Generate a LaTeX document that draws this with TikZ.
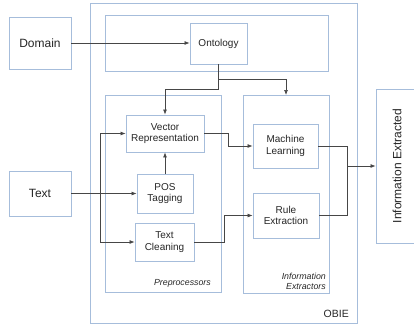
\documentclass[tikz,border=0pt]{standalone}
\usepackage{fontspec}
\setmainfont{Liberation Sans}
\usetikzlibrary{arrows.meta}

\definecolor{boxblue}{RGB}{166,189,219}
\definecolor{linegray}{RGB}{70,70,70}

\tikzset{
  ->/.style={draw=linegray,line width=0.7pt,-{Latex[length=5pt,width=4pt]}},
  link/.style={draw=linegray,line width=0.7pt},
  group/.style={draw=boxblue,line width=0.9pt},
  bigbox/.style={group,fill=white,font=\fontsize{12}{14}\selectfont},
  smallbox/.style={group,fill=white,align=center,font=\fontsize{10}{11.5}\selectfont},
  tag/.style={font=\fontsize{8.8}{10}\selectfont\itshape,align=right,inner sep=0pt}
}
\tikzset{every node/.style={text=black!85}}

\begin{document}
\begin{tikzpicture}[x=1pt,y=-1pt]
    \useasboundingbox (0,0) rectangle (414,327);
    % containers
    \draw[group] (90,3) rectangle (357,323);
    \draw[group] (105,15) rectangle (328,71);
    \draw[group] (105,95) rectangle (221,292);
    \draw[group] (243,95) rectangle (329,293);
    \node (IEbox) at (286,95) [inner sep=0pt] {};
    \node[tag,anchor=base east] (PreLbl) at (211,285) {Preprocessors};
    \node[tag,anchor=south east] (IELbl) at (326,290) {Information\\Extractors};
    \node[anchor=base east,inner sep=0pt,font=\fontsize{10.5}{12}\selectfont] (OBIE) at (349,317) {OBIE};

    % inputs and output
    \node[bigbox,minimum width=62pt,minimum height=52pt] (Domain) at (40,43) {Domain};
    \node[bigbox,minimum width=62pt,minimum height=45pt] (Text) at (40,193.5) {Text};
    \node[bigbox,minimum width=154pt,minimum height=42pt,rotate=90] (Out) at (397,166) {Information Extracted};

    % inner steps
    \node[smallbox,minimum width=57pt,minimum height=41pt] (Onto) at (218.5,43.5) {Ontology};
    \node[smallbox,minimum width=78pt,minimum height=37pt] (VR) at (165,133.5) {Vector\\Representation};
    \node[smallbox,minimum width=56pt,minimum height=39pt] (POS) at (165,193.5) {POS\\Tagging};
    \node[smallbox,minimum width=59pt,minimum height=38pt] (TC) at (164.5,242) {Text\\Cleaning};
    \node[smallbox,minimum width=65pt,minimum height=44pt] (ML) at (285.5,146) {Machine\\Learning};
    \node[smallbox,minimum width=66pt,minimum height=45pt] (RE) at (286,215.5) {Rule\\Extraction};

    \coordinate (ontoA) at (218.5,89);
    \coordinate (ontoB) at (218.5,79);
    \coordinate (textSplit) at (100,193.5);
    \coordinate (merge) at (347,166);

    \draw[->] (Domain.east) -- (Domain.east -| Onto.west);
    \draw[->] (Onto.south) -- (ontoA) -| (VR.north);
    \draw[->] (ontoB) -| (IEbox.center);
    \draw[->] (Text.east) -- (POS.west);
    \draw[->] (textSplit) |- (VR.west);
    \draw[->] (textSplit) |- (TC.west);
    \draw[->] (POS) -- (VR);
    \draw[->] (VR.east) -- ++(24,0) |- (ML.west);
    \draw[->] (TC.east) -- ++(30,0) |- (RE.west);
    \draw[link] (ML.east) -| (merge);
    \draw[link] (RE.east) -| (merge);
    \draw[->] (merge) -- (Out.north);
\end{tikzpicture}
\end{document}
